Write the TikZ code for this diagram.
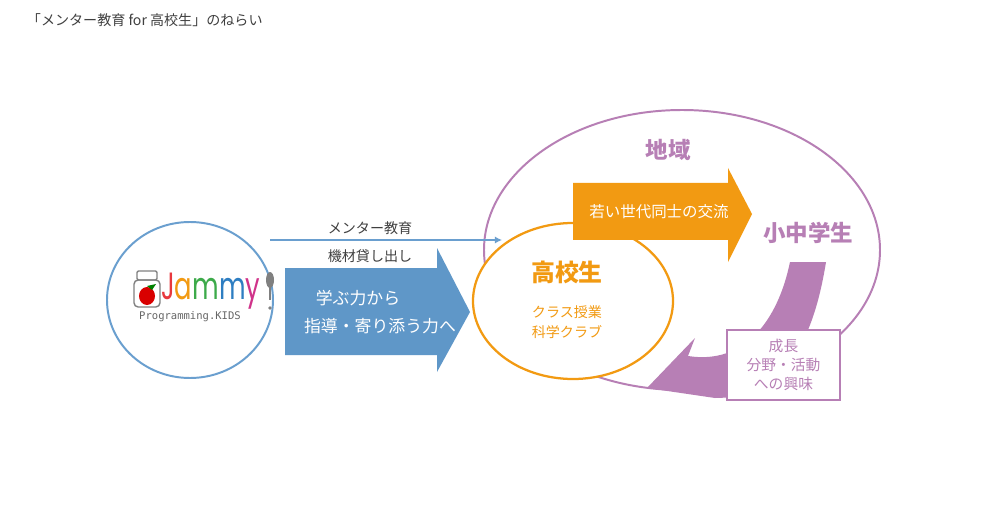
\documentclass[tikz,border=0pt]{standalone}
\usetikzlibrary{arrows.meta}
\usepackage{fontspec}
\setmainfont{Noto Sans CJK JP}
\newfontfamily\monof{DejaVu Sans Mono}
\newfontfamily\roundf{Poppins}
\definecolor{bl}{HTML}{5F97C8}
\definecolor{blline}{HTML}{6A9FCF}
\definecolor{pu}{HTML}{B77FB5}
\definecolor{orr}{HTML}{F29A12}
\definecolor{tx}{HTML}{404040}
\begin{document}
\begin{tikzpicture}[x=0.025cm,y=-0.025cm,
  lab/.style={font=\fontsize{10}{12}\selectfont,text=tx},
  wt/.style={font=\fontsize{12}{14}\selectfont,text=white},
  pt/.style={font=\fontsize{10.5}{13.5}\selectfont,text=pu},
  ot/.style={font=\fontsize{10}{12}\selectfont,text=orr}]
\fill[white] (0,0) rectangle (1000,525);
\node[lab,anchor=west] (title) at (22,20) {「メンター教育 for 高校生」のねらい};
\draw[pu,line width=1.4pt] (682,250) ellipse [x radius=198,y radius=140];
\draw[orr,line width=1.6pt,fill=white] (573,301) ellipse [x radius=100,y radius=78];
\draw[blline,line width=1.4pt,fill=white] (190,300) ellipse [x radius=83,y radius=78];
\coordinate (a1) at (270,240); \coordinate (a2) at (502,240);
\draw[blline,line width=0.9pt,-{Latex[length=5pt,width=5pt]}] (a1) -- (a2);
\node[lab] (mk) at (370,228) {メンター教育};
\node[lab] (kk) at (370,256) {機材貸し出し};
\fill[bl] (285,268) -- (437,268) -- (437,248) -- (470,312) -- (437,372) -- (437,355) -- (285,355) -- cycle;
\node[wt] (m1) at (358,298) {学ぶ力から};
\node[wt] (m2) at (380,326) {指導・寄り添う力へ};
\fill[orr] (573,183) -- (728,183) -- (728,168) -- (752,214) -- (728,262) -- (728,240) -- (573,240) -- cycle;
\node[wt,font=\fontsize{11}{12}\selectfont] (wy) at (659,212) {若い世代同士の交流};
\node[text=pu,font=\fontsize{16}{18}\selectfont\bfseries] (chiiki) at (668,150) {地域};
\node[text=pu,font=\fontsize{16}{18}\selectfont\bfseries] (sho) at (808,233) {小中学生};
\node[text=orr,font=\fontsize{17}{19}\selectfont\bfseries] (ko) at (567,272) {高校生};
\node[ot] (c1) at (567,312) {クラス授業};
\node[ot] (c2) at (567,332) {科学クラブ};
\fill[pu] (790,262) -- (826,262) .. controls (815,330) and (790,398) .. (715,398)
  -- (647,388) -- (695,338) -- (688,356)
  .. controls (745,365) and (778,320) .. (790,262) -- cycle;
\node[draw=pu,line width=1.4pt,fill=white,minimum width=113*0.025cm,minimum height=70*0.025cm,align=center,pt,inner sep=2pt] (box) at (783.5,365) {成長\\分野・活動\\への興味};
\begin{scope}
\draw[gray,line width=1pt,rounded corners=3pt] (134,280) rectangle (160,307);
\draw[gray,line width=1pt,rounded corners=1pt] (137,271) rectangle (157,280);
\fill[red!85!black] (147,296) ellipse [x radius=8,y radius=9];
\fill[green!50!black] (147,286) -- (156,284) -- (152,290) -- cycle;
\end{scope}
\node[anchor=west,inner sep=0,font=\roundf\fontsize{27}{28}\selectfont] (jam) at (161,291) {\scalebox{0.68}[1]{\textcolor[HTML]{E8383D}{J}\textcolor[HTML]{F29A12}{a}\textcolor[HTML]{3DAA4A}{m}\textcolor[HTML]{2E7EC2}{m}\textcolor[HTML]{D0338A}{y}}};
\fill[gray] (270,280) ellipse [x radius=4,y radius=8];
\draw[gray,line width=1.8pt] (270,287) -- (270,300);
\fill[gray] (270,308) circle [radius=1.8];
\node[font=\monof\fontsize{7.5}{9}\selectfont,text=gray!80!black] (pk) at (190,317) {Programming.KIDS};
\end{tikzpicture}
\end{document}
